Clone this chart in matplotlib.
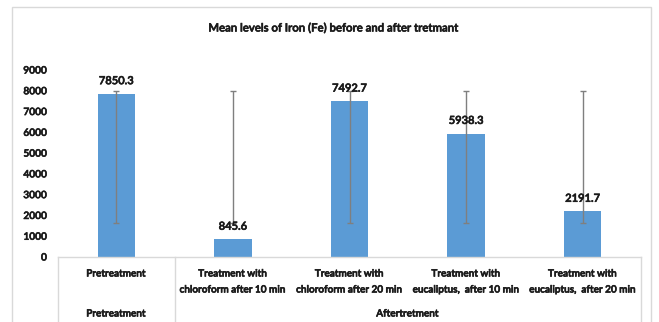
import matplotlib
matplotlib.use("Agg")
import matplotlib.pyplot as plt
from matplotlib.patches import Rectangle
from matplotlib.lines import Line2D
import matplotlib.patheffects as pe
import numpy as np

plt.rcParams['font.family'] = ['Lato', 'DejaVu Sans']

categories = ["Pretreatment",
              "Treatment with\nchloroform after 10 min",
              "Treatment with\nchloroform after 20 min",
              "Treatment with\neucaliptus,  after 10 min",
              "Treatment with\neucaliptus,  after 20 min"]
groups = ["Pretreatment", "Aftertretment"]
group_sizes = [1, 4]
means = [7850.3, 845.6, 7492.7, 5938.3, 2191.7]
err_lower = [1650, 1650, 1650, 1650, 1650]
err_upper = [8000, 8000, 8000, 8000, 8000]
yticks = [0, 1000, 2000, 3000, 4000, 5000, 6000, 7000, 8000, 9000]
title = "Mean levels of Iron (Fe) before and after tretmant"

W, H = 659, 322
TXT = '#1a1a1a'
FW = 'semibold'
PE = [pe.withStroke(linewidth=0.45, foreground=TXT)]
fig = plt.figure(figsize=(W / 100, H / 100), dpi=100)
ax_l, ax_r, ax_b, ax_t = 58, 641, 257, 70
ax = fig.add_axes([ax_l / W, (H - ax_b) / H, (ax_r - ax_l) / W, (ax_b - ax_t) / H])

x = np.arange(len(categories))
ax.bar(x, means, width=0.32, color='#5B9BD5', zorder=2)
lo = np.array(err_lower, float)
hi = np.array(err_upper, float)
mid = (lo + hi) / 2
half = (hi - lo) / 2
ax.errorbar(x, mid, yerr=half, fmt='none', ecolor='#7f7f7f', elinewidth=1.0,
            capsize=2.5, capthick=1.0, zorder=3)

for xi, m in zip(x, means):
    ax.annotate(f"{m}", (xi, m), xytext=(0, 9.5), textcoords='offset points',
                ha='center', va='center', fontsize=8, color=TXT,
                fontweight=FW, zorder=4, path_effects=PE)

ax.set_xlim(-0.5, len(categories) - 0.5)
ax.set_ylim(0, 9000)
ax.set_yticks(yticks)
ax.set_yticklabels([str(t) for t in yticks], fontsize=7.3, fontweight=FW, color=TXT)
for lab in ax.get_yticklabels():
    lab.set_path_effects(PE)
ax.tick_params(axis='y', length=0, pad=8)
ax.set_xticks([])
for s in ['top', 'right', 'left']:
    ax.spines[s].set_visible(False)
ax.spines['bottom'].set_color('#d9d9d9')
ax.spines['bottom'].set_linewidth(1.0)

axh = ax_b - ax_t
trans = ax.get_xaxis_transform()

# category labels (level 1)
for xi, c in zip(x, categories):
    lines = c.split('\n')
    for k, ln in enumerate(lines):
        ax.text(xi, -((274 + 16 * k) - ax_b) / axh, ln, transform=trans,
                ha='center', va='center', fontsize=7.2, fontweight=FW, color=TXT,
                path_effects=PE)

# group labels (level 2)
start = 0
for g, n in zip(groups, group_sizes):
    cx = start + (n - 1) / 2
    ax.text(cx, -(314 - ax_b) / axh, g, transform=trans, ha='center', va='center',
            fontsize=7.2, fontweight=FW, color=TXT, path_effects=PE)
    start += n

# separators
bottom_frac = -(H + 5 - ax_b) / axh
bounds = [-0.5]
s = -0.5
for n in group_sizes:
    s += n
    bounds.append(s)
for b in bounds:
    ax.add_line(Line2D([b, b], [0, bottom_frac], transform=trans, color='#d9d9d9',
                       lw=1.0, clip_on=False))

# outer frame
fig.add_artist(Rectangle((12 / W, -0.05), (651 - 12) / W, (H - 7) / H + 0.05,
                         transform=fig.transFigure, fill=False, edgecolor='#d9d9d9',
                         lw=1.0, clip_on=False))

fig.text(334 / W, 1 - 28 / H, title, ha='center', va='center', fontsize=8.2,
         fontweight=FW, color=TXT, path_effects=PE)

fig.savefig('out.png', dpi=100)
